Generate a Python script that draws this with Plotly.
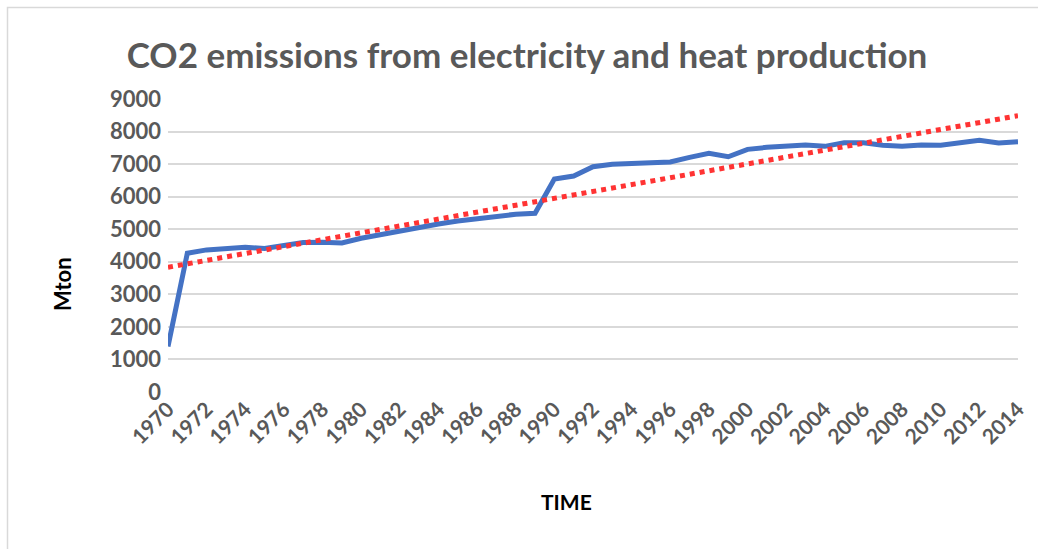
import numpy as np
import plotly.graph_objects as go

# Annual CO2 emissions from electricity and heat production (Mton)
years = list(range(1970, 2015))
emissions = [
    1400, 4264, 4365, 4395, 4448, 4405, 4497, 4589, 4600, 4580,
    4724, 4835, 4957, 5080, 5163, 5255, 5316, 5408, 5460, 5490,
    6543, 6635, 6921, 6994, 7013, 7064, 7064, 7208, 7331, 7227,
    7454, 7515, 7534, 7586, 7546, 7657, 7657, 7577, 7546, 7586,
    7577, 7657, 7730, 7650, 7687,
]
y_ticks = list(range(0, 10000, 1000))
x_ticks = list(range(1970, 2015, 2))

# Linear trendline fitted to the series
slope, intercept = np.polyfit(years, emissions, 1)
trend = [slope * yr + intercept for yr in years]

FONT = "Lato"
GREY = "#595959"

fig = go.Figure()
fig.add_trace(go.Scatter(
    x=years, y=emissions, mode="lines",
    line=dict(color="#4472C4", width=5),
    showlegend=False, name="CO2",
))
fig.add_trace(go.Scatter(
    x=years, y=trend, mode="lines",
    line=dict(color="#FF3333", width=5, dash="dot"),
    showlegend=False, name="Linear trend",
))

fig.update_layout(
    width=1038, height=549,
    margin=dict(l=168, r=20, t=99, b=157),
    paper_bgcolor="white", plot_bgcolor="white",
    font=dict(family=FONT, color=GREY),
    title=dict(
        text="<b>CO2 emissions from electricity and heat production</b>",
        x=527 / 1038, xanchor="center", y=1 - 56 / 549, yanchor="middle",
        font=dict(family=FONT, size=35, color=GREY),
    ),
    xaxis=dict(
        range=[1970, 2014], tickmode="array", tickvals=x_ticks,
        ticktext=[f"<b>{t}</b>" for t in x_ticks],
        tickangle=-45, tickfont=dict(family=FONT, size=21, color=GREY),
        showgrid=False, zeroline=False, showline=False,
        ticks="", automargin=False,
    ),
    yaxis=dict(
        range=[0, 9000], tickmode="array", tickvals=y_ticks,
        ticktext=[f"<b>{t}</b>" for t in y_ticks],
        tickfont=dict(family=FONT, size=22, color=GREY),
        showgrid=True, gridcolor="#D9D9D9", gridwidth=1.5,
        zeroline=False, showline=False, ticks="",
        ticklabelstandoff=6, automargin=False,
    ),
    shapes=[dict(
        type="rect", xref="paper", yref="paper",
        x0=(7.5 - 168) / 850, x1=(1060 - 168) / 850,
        y0=(157 - 560) / 293, y1=(549 - 7.5 - 157) / 293,
        line=dict(color="#D9D9D9", width=1.5), fillcolor="rgba(0,0,0,0)",
        layer="below",
    )],
    annotations=[
        dict(text="<b>Mton</b>", xref="paper", yref="paper",
             x=(62 - 168) / 850, y=(549 - 157 - 284) / 293,
             xanchor="center", yanchor="middle", textangle=-90,
             showarrow=False, font=dict(family=FONT, size=22, color="black")),
        dict(text="<b>TIME</b>", xref="paper", yref="paper",
             x=(566 - 168) / 850, y=(549 - 157 - 501) / 293,
             xanchor="center", yanchor="middle",
             showarrow=False, font=dict(family=FONT, size=21, color="black")),
    ],
)

fig.write_html("out.html")
